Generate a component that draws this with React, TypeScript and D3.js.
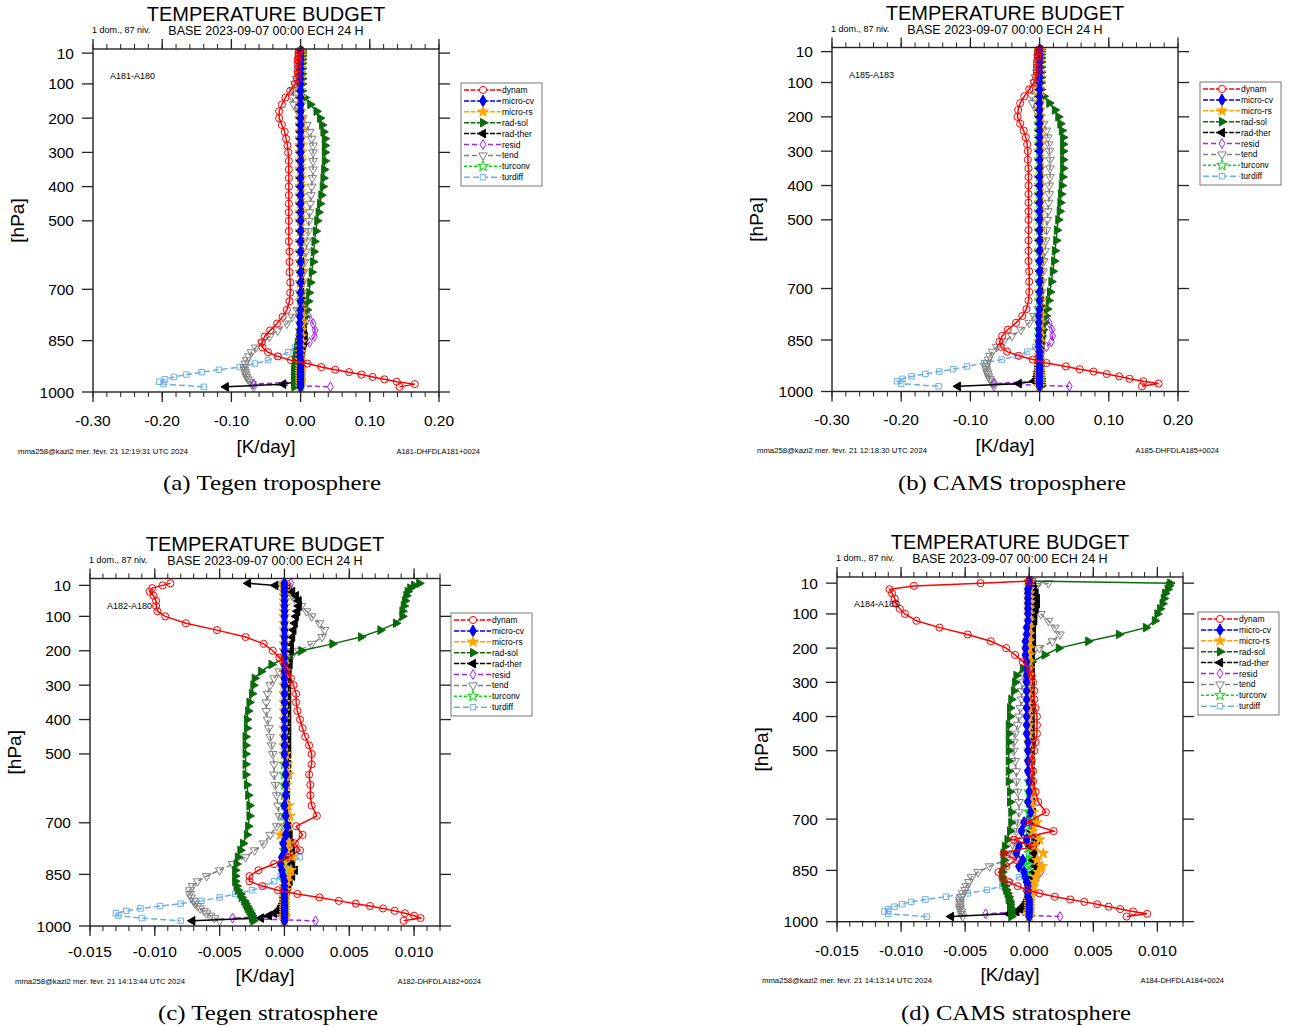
import React from "react";
import * as d3 from "d3";

// model levels (hPa), 5 rows of 11
const LEVELS = [
  4, 10, 18, 28, 40, 55, 70, 85, 100, 120, 140,
  160, 180, 200, 220, 240, 260, 280, 300, 325, 350, 375,
  400, 425, 450, 475, 500, 530, 560, 590, 620, 650, 680,
  710, 735, 760, 780, 800, 820, 838, 855, 870, 884, 896,
  907, 917, 927, 935, 942, 949, 956, 963, 970, 977, 985,
];

const SERIES_NAMES = ["dynam", "micro-cv", "micro-rs", "rad-sol", "rad-ther", "resid", "tend", "turconv", "turdiff"];
const Y_TICKS = [10, 100, 200, 300, 400, 500, 700, 850, 1000];
const X_TICKS_TROPO = [-0.3, -0.2, -0.1, 0, 0.1, 0.2];
const X_TICKS_STRATO = [-0.015, -0.01, -0.005, 0, 0.005, 0.01];

// ---- (a) Tegen troposphere ----
const dynamA = [
  -0.002, -0.003, -0.003, -0.004, -0.004, -0.004, -0.004, -0.005, -0.008, -0.015, -0.022,
  -0.027, -0.031, -0.031, -0.027, -0.023, -0.021, -0.019, -0.018, -0.017, -0.017, -0.017,
  -0.017, -0.017, -0.017, -0.017, -0.017, -0.017, -0.017, -0.016, -0.016, -0.016, -0.015,
  -0.015, -0.016, -0.020, -0.026, -0.034, -0.044, -0.052, -0.056, -0.055, -0.047, -0.033,
  -0.014, 0.010, 0.030, 0.050, 0.070, 0.088, 0.104, 0.121, 0.139, 0.165, 0.143,
];
const microCvA = [
  0, 0, 0, 0, 0, 0, 0, 0, 0, 0, 0,
  0, 0, 0, 0, 0, 0, 0, 0, 0, 0, 0,
  0, 0, 0, 0, 0, 0, 0, 0, 0, 0, 0,
  0, 0, 0, -0.001, -0.001, -0.001, -0.001, -0.001, -0.001, -0.001, -0.001,
  0, 0, 0, 0, 0, 0, 0, 0, 0, 0, 0,
];
const microRsA = [
  0, 0, 0, 0, 0, 0, 0, 0, 0, 0, 0,
  0, 0, 0.001, 0.001, 0.001, 0.001, 0.001, 0.001, 0.001, 0.001, 0.001,
  0.001, 0.001, 0.001, 0.001, 0.001, 0.001, 0.001, 0.001, 0.001, 0.001, 0.001,
  0.001, 0.001, 0.002, 0.002, 0.002, 0.001, 0.001, 0.001, 0, 0, 0,
  0, 0, 0, 0, 0, 0, 0, 0, 0, 0, 0,
];
const radSolA = [
  0.002, 0.002, 0.002, 0.002, 0.002, 0.002, 0.002, 0.002, 0.002, 0.002, 0.006,
  0.014, 0.023, 0.028, 0.031, 0.033, 0.035, 0.035, 0.035, 0.035, 0.034, 0.033,
  0.032, 0.030, 0.028, 0.026, 0.024, 0.022, 0.020, 0.019, 0.018, 0.016, 0.014,
  0.012, 0.011, 0.009, 0.007, 0.004, 0.001, -0.002, -0.004, -0.005, -0.006, -0.007,
  -0.008, -0.008, -0.009, -0.009, -0.009, -0.009, -0.009, -0.009, -0.009, -0.009, -0.009,
];
const radTherA = [
  0, 0, 0, 0, 0, 0, 0, 0, 0, 0, 0,
  0, 0, 0, 0, 0, 0, 0, 0, 0, 0, 0,
  0, 0, 0, 0, 0, 0, 0, 0, 0.001, 0.001, 0.001,
  0.001, 0.002, 0.002, 0.003, 0.004, 0.005, 0.006, 0.005, 0.003, 0.002, 0.001,
  0, 0, -0.001, -0.001, -0.002, -0.002, -0.003, -0.004, -0.006, -0.025, -0.108,
];
const residA = [
  0, 0, 0, 0, 0, 0, 0, 0, 0, 0, 0,
  0, 0, 0, 0.001, 0.001, 0.001, 0.001, 0.001, 0.001, 0.001, 0.001,
  0.001, 0.001, 0.001, 0.001, 0.001, 0.001, 0.001, 0.001, 0.001, 0.002, 0.002,
  0.002, 0.002, 0.004, 0.012, 0.018, 0.021, 0.020, 0.013, 0.004, 0.001, 0,
  0, 0, 0, 0, 0, 0, 0, 0, 0, -0.068, 0.043,
];
const tendA = [
  0, -0.001, -0.001, -0.002, -0.002, -0.003, -0.004, -0.006, -0.008, -0.011, -0.012,
  -0.010, -0.004, 0.003, 0.009, 0.013, 0.016, 0.018, 0.018, 0.018, 0.018, 0.017,
  0.016, 0.015, 0.014, 0.013, 0.012, 0.011, 0.009, 0.008, 0.006, 0.004, 0.003,
  0.002, 0, -0.005, -0.012, -0.020, -0.033, -0.045, -0.056, -0.065, -0.071, -0.075,
  -0.078, -0.080, -0.081, -0.081, -0.080, -0.079, -0.078, -0.076, -0.073, -0.070, -0.068,
];
const turconvA = [
  0, 0, 0, 0, 0, 0, 0, 0, 0, 0, 0,
  0, 0, 0, 0, 0, 0, 0, 0, 0, 0, 0,
  0, 0, 0, 0, 0, 0, 0, 0, 0, 0, 0,
  0, 0, 0, 0, 0, 0, 0, 0, 0, 0, 0,
  0, 0, 0, 0, 0, 0, 0, 0, 0, 0, 0,
];
const turdiffA = [
  0, 0, 0, 0, 0, 0, 0, 0, 0, 0, 0,
  0, 0, 0, 0, 0, 0, 0, 0, 0, 0, 0,
  0, 0, 0, 0, 0, 0, 0, 0, 0, 0, 0,
  0, 0, 0, 0, 0, 0, -0.001, -0.003, -0.008, -0.018, -0.032,
  -0.047, -0.066, -0.088, -0.118, -0.143, -0.165, -0.183, -0.196, -0.204, -0.198, -0.140,
];

// ---- (b) CAMS troposphere ----
const dynamB = [
  -0.001, -0.002, -0.003, -0.003, -0.004, -0.004, -0.004, -0.005, -0.008, -0.015, -0.022,
  -0.028, -0.031, -0.032, -0.028, -0.023, -0.020, -0.018, -0.017, -0.017, -0.016, -0.016,
  -0.016, -0.016, -0.016, -0.016, -0.016, -0.016, -0.016, -0.016, -0.016, -0.015, -0.015,
  -0.015, -0.016, -0.019, -0.025, -0.034, -0.046, -0.054, -0.058, -0.056, -0.047, -0.030,
  -0.010, 0.010, 0.038, 0.058, 0.078, 0.097, 0.115, 0.130, 0.150, 0.172, 0.148,
];
const microCvB = [
  0, 0, 0, 0, 0, 0, 0, 0, 0, 0, 0,
  0, 0, 0, 0, 0, 0, 0, 0, 0, 0, 0,
  0, 0, 0, 0, 0, 0, 0, 0, 0, 0, 0,
  0, 0, 0, -0.001, -0.001, -0.001, -0.001, -0.001, -0.001, 0, 0,
  0, 0, 0, 0, 0, 0, 0, 0, 0, 0, 0,
];
const microRsB = [
  0, 0, 0, 0, 0, 0, 0, 0, 0, 0, 0,
  0, 0, 0.001, 0.001, 0.001, 0.001, 0.001, 0.001, 0.001, 0.001, 0.001,
  0.001, 0.001, 0.001, 0.001, 0.001, 0.001, 0.001, 0.001, 0.001, 0.001, 0.001,
  0.001, 0.002, 0.002, 0.002, 0.001, 0.001, 0.001, 0, 0, 0, 0,
  0, 0, 0, 0, 0, 0, 0, 0, 0, 0, 0,
];
const radSolB = [
  0.002, 0.002, 0.002, 0.002, 0.002, 0.002, 0.002, 0.002, 0.002, 0.002, 0.006,
  0.014, 0.022, 0.027, 0.030, 0.032, 0.034, 0.034, 0.034, 0.034, 0.034, 0.033,
  0.032, 0.031, 0.030, 0.029, 0.027, 0.025, 0.024, 0.022, 0.021, 0.019, 0.017,
  0.015, 0.013, 0.011, 0.009, 0.007, 0.005, 0.003, 0.001, 0, -0.001, -0.001,
  -0.001, -0.001, 0, 0, 0.001, 0.001, 0.001, 0.002, 0.002, 0.002, 0.002,
];
const radTherB = [
  0, 0, 0, 0, 0, 0, 0, 0, 0, 0, 0,
  0, 0, 0, 0, 0, 0, 0, 0, 0, 0, 0,
  0, 0, 0, 0, 0, 0, 0, 0, 0.001, 0.001, 0.001,
  0.001, 0.002, 0.003, 0.004, 0.005, 0.005, 0.004, 0.003, 0.002, 0.001, 0.001,
  0, 0, -0.001, -0.001, -0.002, -0.002, -0.003, -0.004, -0.008, -0.030, -0.118,
];
const residB = [
  0, 0, 0, 0, 0, 0, 0, 0, 0, 0, 0,
  0, 0, 0, 0.001, 0.001, 0.001, 0.001, 0.001, 0.001, 0.001, 0.001,
  0.001, 0.001, 0.001, 0.001, 0.001, 0.001, 0.001, 0.001, 0.001, 0.002, 0.002,
  0.002, 0.002, 0.004, 0.009, 0.014, 0.018, 0.019, 0.017, 0.010, 0.003, 0.001,
  0, 0, 0, 0, 0, 0, 0, 0, 0, -0.066, 0.043,
];
const tendB = [
  0, -0.001, -0.001, -0.002, -0.002, -0.003, -0.004, -0.006, -0.008, -0.010, -0.011,
  -0.010, -0.005, 0.001, 0.006, 0.010, 0.012, 0.013, 0.014, 0.015, 0.015, 0.015,
  0.014, 0.014, 0.013, 0.012, 0.011, 0.010, 0.009, 0.008, 0.006, 0.005, 0.004,
  0.003, 0.001, -0.002, -0.008, -0.015, -0.027, -0.040, -0.052, -0.062, -0.068, -0.072,
  -0.074, -0.076, -0.077, -0.077, -0.076, -0.075, -0.074, -0.072, -0.070, -0.068, -0.066,
];
const turconvB = [
  0, 0, 0, 0, 0, 0, 0, 0, 0, 0, 0,
  0, 0, 0, 0, 0, 0, 0, 0, 0, 0, 0,
  0, 0, 0, 0, 0, 0, 0, 0, 0, 0, 0,
  0, 0, 0, 0, 0, 0, 0, 0, 0, 0, 0,
  0, 0, 0, 0, 0, 0, 0, 0, 0, 0, 0,
];
const turdiffB = [
  0, 0, 0, 0, 0, 0, 0, 0, 0, 0, 0,
  0, 0, 0, 0, 0, 0, 0, 0, 0, 0, 0,
  0, 0, 0, 0, 0, 0, 0, 0, 0, 0, 0,
  0, 0, 0, 0, 0, 0, -0.001, -0.002, -0.006, -0.018, -0.033,
  -0.055, -0.080, -0.105, -0.125, -0.145, -0.165, -0.185, -0.198, -0.206, -0.200, -0.146,
];

// ---- (c) Tegen stratosphere ----
const dynamC = [
  -0.0088, -0.0094, -0.0102, -0.0104, -0.0101, -0.0099, -0.0099, -0.0098, -0.0092, -0.0076, -0.0052,
  -0.0030, -0.0016, -0.0009, -0.0004, 0.0000, 0.0003, 0.0005, 0.0007, 0.0009, 0.0009, 0.0010,
  0.0012, 0.0014, 0.0016, 0.0019, 0.0021, 0.0021, 0.0019, 0.0020, 0.0020, 0.0021, 0.0025,
  0.0009, 0.0014, 0.0008, 0.0012, 0.0003, -0.0008, -0.0020, -0.0027, -0.0027, -0.0017, -0.0005,
  0.0010, 0.0027, 0.0042, 0.0055, 0.0066, 0.0076, 0.0085, 0.0093, 0.0100, 0.0105, 0.0092,
];
const microCvC = [
  0, 0, 0, 0, 0, 0, 0, 0, 0, 0, 0,
  0, 0, 0, 0, 0, 0, 0, 0, 0, 0, 0,
  0, 0, 0, 0, 0, 0.0001, 0.0001, 0.0001, 0.0001, 0, 0.0001,
  0.0002, 0.0001, -0.0001, 0, -0.0002, -0.0003, -0.0002, -0.0001, 0, 0, 0,
  0, 0, 0, 0, 0, 0, 0, 0, 0, 0, 0,
];
const microRsC = [
  0, 0, 0, 0, 0, 0, 0, 0, 0, 0, 0,
  0, 0, 0, 0, 0, 0, 0, 0, 0, 0, 0,
  0, 0, 0, 0, 0.0001, 0.0002, 0.0003, 0.0002, 0.0001, 0.0003, 0.0004,
  0.0002, -0.0003, 0.0004, 0.0002, 0.0006, -0.0002, 0.0005, 0.0003, 0.0002, 0.0001, 0.0001,
  0.0001, 0, 0, 0, 0, 0, 0, 0, 0, 0, 0,
];
const radSolC = [
  0.0104, 0.0100, 0.0097, 0.0095, 0.0094, 0.0093, 0.0092, 0.0091, 0.0091, 0.0086, 0.0074,
  0.0059, 0.0037, 0.0013, 0.0002, -0.0010, -0.0018, -0.0023, -0.0024, -0.0025, -0.0027, -0.0028,
  -0.0029, -0.0029, -0.0030, -0.0030, -0.0030, -0.0030, -0.0030, -0.0029, -0.0028, -0.0027, -0.0027,
  -0.0028, -0.0029, -0.0032, -0.0034, -0.0036, -0.0037, -0.0038, -0.0038, -0.0038, -0.0037, -0.0036,
  -0.0034, -0.0033, -0.0031, -0.0030, -0.0029, -0.0028, -0.0027, -0.0026, -0.0025, -0.0025, -0.0024,
];
const radTherC = [
  -0.0028, -0.0007, 0.0002, 0.0006, 0.0009, 0.0011, 0.0011, 0.0010, 0.0009, 0.0008, 0.0007,
  0.0006, 0.0005, 0.0005, 0.0004, 0.0004, 0.0003, 0.0003, 0.0003, 0.0003, 0.0003, 0.0003,
  0.0003, 0.0003, 0.0003, 0.0003, 0.0003, 0.0003, 0.0003, 0.0002, 0.0002, 0.0002, 0.0002,
  0.0003, 0.0004, 0.0005, 0.0006, 0.0004, 0.0006, 0.0008, 0.0006, 0.0004, 0.0003, 0.0002,
  0.0001, 0, 0, -0.0001, -0.0002, -0.0003, -0.0005, -0.0008, -0.0012, -0.0018, -0.0071,
];
const residC = [
  0.0005, 0.0003, 0.0001, 0.0001, 0, 0, 0, 0, 0, 0, 0,
  0, 0, 0, 0, 0, 0, 0, 0, 0, 0, 0,
  0, 0, 0, 0, 0, 0.0001, 0.0001, 0.0001, 0.0001, 0.0001, 0.0002,
  0.0002, 0.0001, 0.0002, 0.0003, 0.0004, 0.0005, 0.0006, 0.0005, 0.0003, 0.0002, 0.0001,
  0.0001, 0, 0, 0, 0, 0, 0, 0.0001, 0.0002, -0.0040, 0.0024,
];
const tendC = [
  0.0001, 0.0002, 0.0003, 0.0004, 0.0006, 0.0009, 0.0013, 0.0017, 0.0021, 0.0027, 0.0031,
  0.0029, 0.0021, 0.0011, 0.0005, 0.0000, -0.0004, -0.0008, -0.0011, -0.0013, -0.0014, -0.0014,
  -0.0013, -0.0012, -0.0011, -0.0010, -0.0009, -0.0008, -0.0008, -0.0007, -0.0006, -0.0005, -0.0004,
  -0.0006, -0.0011, -0.0016, -0.0023, -0.0030, -0.0040, -0.0050, -0.0060, -0.0067, -0.0071, -0.0073,
  -0.0073, -0.0072, -0.0070, -0.0069, -0.0067, -0.0065, -0.0062, -0.0060, -0.0057, -0.0054, -0.0050,
];
const turconvC = [
  0, 0, 0, 0, 0, 0, 0, 0, 0, 0, 0,
  0, 0, 0, 0, 0, 0, 0, 0, 0, 0, 0,
  0, 0, 0, 0, 0, 0, 0, 0, 0, 0, 0,
  0, 0, 0, 0, 0, 0, 0, 0, 0, 0, 0,
  0, 0, 0, 0, 0, 0, 0, 0, 0, 0, 0,
];
const turdiffC = [
  0, 0, 0, 0, 0, 0, 0, 0, 0, 0, 0,
  0, 0, 0, 0, 0, 0, 0, 0, 0, 0, 0,
  0, 0, 0, 0, 0, 0, 0, 0, 0, 0, 0,
  0, 0.0002, 0.0004, 0.0009, 0.0012, 0.0003, -0.0001, -0.0003, -0.0008, -0.0015, -0.0025,
  -0.0038, -0.0050, -0.0064, -0.0080, -0.0096, -0.0111, -0.0122, -0.0130, -0.0128, -0.0110, -0.0080,
];

// ---- (d) CAMS stratosphere ----
const dynamD = [
  0.0000, -0.0038, -0.0090, -0.0109, -0.0107, -0.0105, -0.0104, -0.0101, -0.0097, -0.0088, -0.0070,
  -0.0048, -0.0030, -0.0018, -0.0011, -0.0005, 0.0000, 0.0002, 0.0003, 0.0004, 0.0004, 0.0005,
  0.0006, 0.0006, 0.0006, 0.0005, 0.0004, 0.0002, 0.0003, 0.0003, 0.0005, 0.0007, 0.0013,
  -0.0002, 0.0019, -0.0012, 0.0003, -0.0020, -0.0010, -0.0018, -0.0024, -0.0021, -0.0016, -0.0009,
  -0.0002, 0.0008, 0.0020, 0.0032, 0.0043, 0.0053, 0.0062, 0.0071, 0.0081, 0.0092, 0.0076,
];
const microCvD = [
  0, 0, 0, -0.0001, -0.0001, -0.0001, -0.0001, -0.0001, -0.0001, -0.0001, -0.0002,
  -0.0002, -0.0003, -0.0003, -0.0003, -0.0002, -0.0002, -0.0002, -0.0002, -0.0002, -0.0002, -0.0002,
  -0.0002, -0.0002, -0.0002, -0.0001, -0.0001, -0.0001, -0.0001, 0, 0, -0.0001, 0.0001,
  -0.0004, -0.0006, -0.0002, -0.0008, -0.0010, -0.0005, -0.0008, -0.0004, -0.0003, -0.0002, -0.0001,
  -0.0001, -0.0001, -0.0001, 0, 0, 0, 0, 0, 0, 0, 0,
];
const microRsD = [
  0, 0, 0, 0, 0, 0, 0, 0, 0, 0, 0,
  0, 0, 0, 0, 0, 0, 0, 0, 0, 0, 0,
  0, 0, 0, 0, 0, 0.0001, 0.0001, 0.0001, 0.0002, 0.0002, 0.0003,
  0.0006, 0.0003, 0.0008, 0.0004, 0.0011, 0.0006, 0.0010, 0.0007, 0.0005, 0.0004, 0.0003,
  0.0002, 0.0001, 0.0001, 0, 0, 0, 0, 0, 0, 0, 0,
];
const radSolD = [
  0.0000, 0.0110, 0.0109, 0.0108, 0.0106, 0.0105, 0.0104, 0.0102, 0.0100, 0.0098, 0.0091,
  0.0070, 0.0046, 0.0023, 0.0012, 0.0002, -0.0005, -0.0010, -0.0011, -0.0012, -0.0014, -0.0015,
  -0.0015, -0.0016, -0.0016, -0.0016, -0.0016, -0.0016, -0.0016, -0.0016, -0.0015, -0.0015, -0.0014,
  -0.0014, -0.0015, -0.0017, -0.0019, -0.0020, -0.0020, -0.0020, -0.0021, -0.0021, -0.0020, -0.0019,
  -0.0018, -0.0017, -0.0016, -0.0016, -0.0015, -0.0015, -0.0015, -0.0014, -0.0014, -0.0014, -0.0014,
];
const radTherD = [
  0, 0.0001, 0.0003, 0.0004, 0.0005, 0.0006, 0.0006, 0.0005, 0.0004, 0.0004, 0.0003,
  0.0003, 0.0003, 0.0002, 0.0002, 0.0002, 0.0002, 0.0002, 0.0002, 0.0002, 0.0002, 0.0002,
  0.0002, 0.0002, 0.0002, 0.0002, 0.0002, 0.0002, 0.0002, 0.0002, 0.0002, 0.0002, 0.0003,
  0.0005, 0.0002, 0.0006, 0.0001, 0.0004, 0.0003, 0.0005, 0.0004, 0.0003, 0.0002, 0.0001,
  0.0001, 0, 0, -0.0001, -0.0002, -0.0003, -0.0005, -0.0007, -0.0010, -0.0016, -0.0061,
];
const residD = [
  0.0002, 0.0001, 0, 0, 0, 0, 0, 0, 0, 0, 0,
  0, 0, 0, 0, 0, 0, 0, 0, 0, 0, 0,
  0, 0, 0, 0, 0, 0, 0, 0, 0.0001, 0.0001, 0.0001,
  0.0001, 0.0002, 0.0002, 0.0003, 0.0004, 0.0006, 0.0008, 0.0009, 0.0006, 0.0004, 0.0003,
  0.0002, 0.0001, 0.0001, 0.0001, 0.0001, 0, 0, 0, 0, -0.0034, 0.0024,
];
const tendD = [
  0.0002, 0.0015, 0.0006, 0.0002, 0.0000, 0.0000, 0.0002, 0.0005, 0.0009, 0.0015, 0.0020,
  0.0024, 0.0018, 0.0008, 0.0002, -0.0002, -0.0003, -0.0004, -0.0005, -0.0006, -0.0006, -0.0007,
  -0.0008, -0.0009, -0.0011, -0.0012, -0.0012, -0.0011, -0.0010, -0.0010, -0.0009, -0.0008, -0.0008,
  -0.0009, -0.0010, -0.0011, -0.0012, -0.0014, -0.0018, -0.0031, -0.0040, -0.0045, -0.0047, -0.0049,
  -0.0050, -0.0052, -0.0053, -0.0054, -0.0054, -0.0054, -0.0054, -0.0054, -0.0053, -0.0053, -0.0052,
];
const turconvD = [
  0, 0, 0, 0, 0, 0, 0, 0, 0, 0, 0,
  0, 0, 0, 0, 0, 0, 0, 0, 0, 0, 0,
  0, 0, 0, 0, 0, 0, 0, 0, 0, 0, 0,
  0, 0, 0, 0, 0, 0, 0, 0, 0, 0, 0,
  0, 0, 0, 0, 0, 0, 0, 0, 0, 0, 0,
];
const turdiffD = [
  0, 0, 0, 0, 0, 0, 0, 0, 0, 0, 0,
  0, 0, 0, 0, 0, 0, 0, 0, 0, 0, 0,
  0, 0, 0, 0, 0, 0, 0, 0, 0, 0, 0,
  0, 0, 0, 0, 0, 0, -0.0001, -0.0003, -0.0008, -0.0015, -0.0021,
  -0.0033, -0.0048, -0.0065, -0.0081, -0.0092, -0.0099, -0.0105, -0.0110, -0.0113, -0.0110, -0.0080,
];

const FONT = "'Liberation Sans', Arial, Helvetica, sans-serif";

const STYLES = [
  { color: "#ff0000", dash: "", marker: "circle", filled: false },
  { color: "#0000ff", dash: "", marker: "diamond", filled: true },
  { color: "#ffa500", dash: "", marker: "star", filled: true },
  { color: "#0b6b0b", dash: "", marker: "triRight", filled: true },
  { color: "#000000", dash: "", marker: "triLeft", filled: true },
  { color: "#a020f0", dash: "5,3", marker: "diamond", filled: false },
  { color: "#808080", dash: "5,3", marker: "triDown", filled: false },
  { color: "#00e000", dash: "3,2", marker: "star", filled: false },
  { color: "#6aaee8", dash: "6,3", marker: "square", filled: false },
];

const markerPath = (m: string, k: number) => {
  if (m === "circle") return d3.symbol().type(d3.symbolCircle).size(40)();
  if (m === "diamond") return d3.symbol().type(d3.symbolDiamond).size(k === 1 ? 40 : 28)();
  if (m === "star") return d3.symbol().type(d3.symbolStar).size(36)();
  if (m === "square") return d3.symbol().type(d3.symbolSquare).size(30)();
  return d3.symbol().type(d3.symbolTriangle).size(32)();
};
const markerRot = (m: string) => (m === "triRight" ? 90 : m === "triLeft" ? -90 : m === "triDown" ? 180 : 0);

type PanelDef = {
  x0: number; x1: number; y0: number; y1: number;
  xDomain: [number, number]; pTop: number;
  xTicks: number[]; minor: number; digits: number;
  series: number[][];
  tag: string; stamp: string; code: string; caption: string;
  legX: number; legY: number;
  tickY: number; kY: number; footY: number; capX: number; capY: number; capW: number;
};

const PANELS: PanelDef[] = [
  {
    x0: 93, x1: 439, y0: 49, y1: 392, xDomain: [-0.3, 0.2], pTop: -2,
    xTicks: X_TICKS_TROPO, minor: 0.02, digits: 2,
    series: [dynamA, microCvA, microRsA, radSolA, radTherA, residA, tendA, turconvA, turdiffA],
    tag: "A181-A180", stamp: "mma258@kazi2 mer. févr. 21 12:19:31 UTC 2024", code: "A181-DHFDLA181+0024",
    caption: "(a) Tegen troposphere", legX: 461, legY: 83, tickY: 426, kY: 453, footY: 454, capX: 272, capY: 490, capW: 218,
  },
  {
    x0: 832, x1: 1178, y0: 47.5, y1: 391.5, xDomain: [-0.3, 0.2], pTop: -2,
    xTicks: X_TICKS_TROPO, minor: 0.02, digits: 2,
    series: [dynamB, microCvB, microRsB, radSolB, radTherB, residB, tendB, turconvB, turdiffB],
    tag: "A185-A183", stamp: "mma258@kazi2 mer. févr. 21 12:18:30 UTC 2024", code: "A185-DHFDLA185+0024",
    caption: "(b) CAMS troposphere", legX: 1200, legY: 82, tickY: 425, kY: 452, footY: 453, capX: 1012, capY: 490, capW: 228,
  },
  {
    x0: 90, x1: 440, y0: 578.5, y1: 926, xDomain: [-0.015, 0.012], pTop: -10,
    xTicks: X_TICKS_STRATO, minor: 0.001, digits: 3,
    series: [dynamC, microCvC, microRsC, radSolC, radTherC, residC, tendC, turconvC, turdiffC],
    tag: "A182-A180", stamp: "mma258@kazi2 mer. févr. 21 14:13:44 UTC 2024", code: "A182-DHFDLA182+0024",
    caption: "(c) Tegen stratosphere", legX: 451, legY: 613, tickY: 957, kY: 982, footY: 984, capX: 268, capY: 1020, capW: 220,
  },
  {
    x0: 837, x1: 1183, y0: 577, y1: 921.7, xDomain: [-0.015, 0.012], pTop: -8,
    xTicks: X_TICKS_STRATO, minor: 0.001, digits: 3,
    series: [dynamD, microCvD, microRsD, radSolD, radTherD, residD, tendD, turconvD, turdiffD],
    tag: "A184-A183", stamp: "mma258@kazi2 mer. févr. 21 14:13:14 UTC 2024", code: "A184-DHFDLA184+0024",
    caption: "(d) CAMS stratosphere", legX: 1198, legY: 612, tickY: 956, kY: 981, footY: 983, capX: 1016, capY: 1020, capW: 230,
  },
];

const fmt = (v: number, digits: number) => {
  const s = Math.abs(v).toFixed(digits);
  return v < -1e-9 ? "-" + s : s;
};

const Panel = ({ p }: { p: PanelDef }) => {
  const x = d3.scaleLinear().domain(p.xDomain).range([p.x0, p.x1]);
  const y = d3.scaleLinear().domain([p.pTop, 1000]).range([p.y0, p.y1]);
  const nMinor = Math.round((p.xDomain[1] - p.xDomain[0]) / p.minor);
  const minorTicks = d3.range(nMinor + 1).map((i) => p.xDomain[0] + i * p.minor);
  const line = d3.line<number>().x((v) => x(v)).y((_, i) => y(LEVELS[i]));
  const cx = (p.x0 + p.x1) / 2;
  const order = d3.range(SERIES_NAMES.length).reverse();

  return (
    <g>
      {/* titles */}
      <text x={cx} y={p.y0 - 28} textAnchor="middle" fontSize={20} fontFamily={FONT}>TEMPERATURE BUDGET</text>
      <text x={p.x0 - 1} y={p.y0 - 16} fontSize={9} fontFamily={FONT}>1 dom., 87 niv.</text>
      <text x={cx} y={p.y0 - 14} textAnchor="middle" fontSize={12.5} fontFamily={FONT}>BASE 2023-09-07 00:00 ECH 24 H</text>

      {/* curves, last series underneath */}
      {order.map((k) => {
        const st = STYLES[k];
        const vals = p.series[k];
        const mp = markerPath(st.marker, k);
        const rot = markerRot(st.marker);
        return (
          <g key={k}>
            <path d={line(vals) || ""} fill="none" stroke={st.color} strokeWidth={1.5} strokeDasharray={st.dash || undefined} />
            {vals.map((v, i) => (
              <path key={i} d={mp || ""} transform={`translate(${x(v)},${y(LEVELS[i])}) rotate(${rot})`}
                fill={st.filled ? st.color : "none"} stroke={st.color} strokeWidth={1} />
            ))}
          </g>
        );
      })}

      {/* frame and ticks */}
      <rect x={p.x0} y={p.y0} width={p.x1 - p.x0} height={p.y1 - p.y0} fill="none" stroke="#222" strokeWidth={1.4} />
      {minorTicks.map((t, i) => (
        <g key={"m" + i}>
          <line x1={x(t)} x2={x(t)} y1={p.y0} y2={p.y0 - 5} stroke="#222" strokeWidth={1} />
          <line x1={x(t)} x2={x(t)} y1={p.y1} y2={p.y1 + 5} stroke="#222" strokeWidth={1} />
        </g>
      ))}
      {p.xTicks.map((t) => (
        <g key={"x" + t}>
          <line x1={x(t)} x2={x(t)} y1={p.y0} y2={p.y0 - 10} stroke="#222" strokeWidth={1.3} />
          <line x1={x(t)} x2={x(t)} y1={p.y1} y2={p.y1 + 10} stroke="#222" strokeWidth={1.3} />
          <text x={x(t)} y={p.tickY} textAnchor="middle" fontSize={15.5} fontFamily={FONT}>{fmt(t, p.digits)}</text>
        </g>
      ))}
      {Y_TICKS.map((t) => (
        <g key={"y" + t}>
          <line x1={p.x0} x2={p.x0 - 11} y1={y(t)} y2={y(t)} stroke="#222" strokeWidth={1.3} />
          <line x1={p.x1} x2={p.x1 + 11} y1={y(t)} y2={y(t)} stroke="#222" strokeWidth={1.3} />
          <text x={p.x0 - 19} y={y(t) + 5.5} textAnchor="end" fontSize={15.5} fontFamily={FONT}>{t}</text>
        </g>
      ))}

      <text transform={`translate(${p.x0 - 69},${(p.y0 + p.y1) / 2}) rotate(-90)`} textAnchor="middle" fontSize={19} fontFamily={FONT}>[hPa]</text>
      <text x={cx} y={p.kY} textAnchor="middle" fontSize={19} fontFamily={FONT}>[K/day]</text>
      <text x={p.x0 + 17} y={p.y0 + 30} fontSize={9} fontFamily={FONT}>{p.tag}</text>
      <text x={p.x0 - 75} y={p.footY} fontSize={7.2} fontFamily={FONT} textLength={170} lengthAdjust="spacingAndGlyphs">{p.stamp}</text>
      <text x={p.x1 + 41} y={p.footY} textAnchor="end" fontSize={7.5} fontFamily={FONT}>{p.code}</text>

      {/* legend */}
      <rect x={p.legX} y={p.legY} width={81} height={103} fill="#fff" stroke="#777" strokeWidth={1} />
      {SERIES_NAMES.map((name, k) => {
        const st = STYLES[k];
        const ly = p.legY + 7 + k * 10.9;
        const mp = markerPath(st.marker, k);
        return (
          <g key={"l" + k}>
            <line x1={p.legX + 3} x2={p.legX + 40} y1={ly} y2={ly} stroke={st.color} strokeWidth={1.5}
              strokeDasharray={st.dash || "5,1.5"} />
            <path d={mp || ""} transform={`translate(${p.legX + 22},${ly}) rotate(${markerRot(st.marker)})`}
              fill={st.filled ? st.color : "#fff"} stroke={st.color} strokeWidth={1} />
            <text x={p.legX + 41} y={ly + 3} fontSize={8.5} fontFamily={FONT}>{name}</text>
          </g>
        );
      })}

      <text x={p.capX} y={p.capY} textAnchor="middle" fontSize={21.5} fontFamily="'Liberation Serif', 'Times New Roman', serif"
        textLength={p.capW} lengthAdjust="spacingAndGlyphs">{p.caption}</text>
    </g>
  );
};

export default function App() {
  return (
    <svg width={1301} height={1027} style={{ position: "absolute", left: 0, top: 0, background: "#fff" }}>
      <rect width={1301} height={1027} fill="#fff" />
      {PANELS.map((p, i) => (
        <Panel key={i} p={p} />
      ))}
    </svg>
  );
}
